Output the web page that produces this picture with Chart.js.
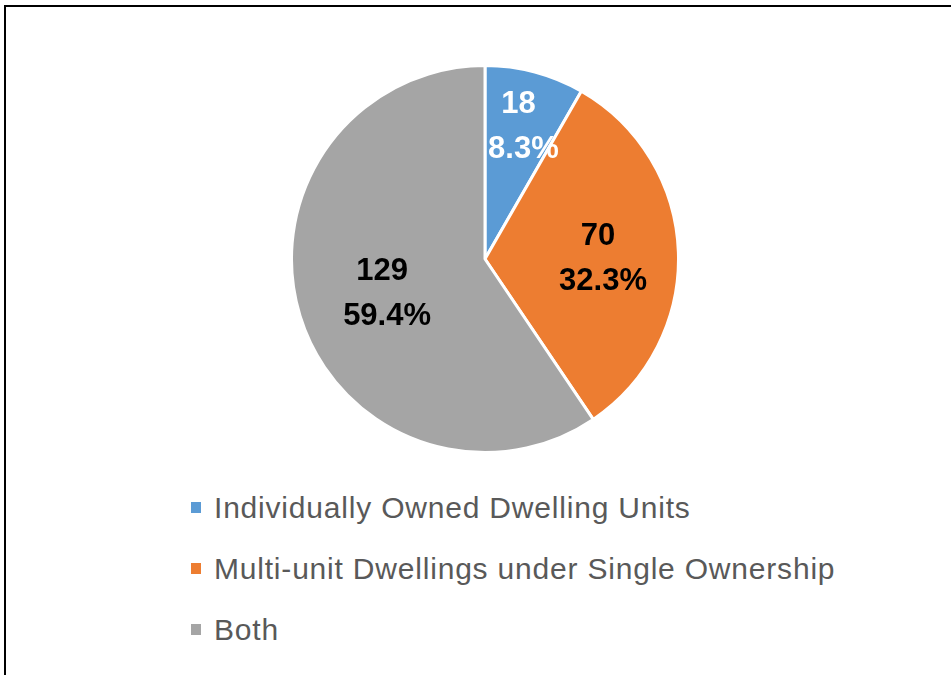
<html>
<head>
    <script src="https://cdn.jsdelivr.net/npm/chart.js@4/dist/chart.umd.min.js"></script>
    <style>
        body { margin: 0; background: #fff; width: 951px; height: 675px; overflow: hidden; position: relative; font-family: "Liberation Sans", Arial, sans-serif; }
        #frame { position: absolute; left: 4px; top: 5px; width: 960px; height: 700px; border-left: 2px solid #000; border-top: 2px solid #000; }
        #pie { position: absolute; left: 290px; top: 64px; width: 390px; height: 390px; }
        #legend { position: absolute; left: 191px; top: 488px; }
        .item { height: 61px; line-height: 40px; font-size: 30px; letter-spacing: 0.8px; color: #595959; white-space: nowrap; }
        .sw { display: inline-block; width: 10px; height: 11px; margin-right: 13px; vertical-align: 5px; }
    </style>
</head>
<body>
    <div id="frame"></div>
    <div id="pie"><canvas id="myChart"></canvas></div>
    <div id="legend"></div>
    <script type="text/javascript">
        const labels = ['Individually Owned Dwelling Units', 'Multi-unit Dwellings under Single Ownership', 'Both'];
        const counts = [18, 70, 129];
        const percents = ['8.3%', '32.3%', '59.4%'];
        const colors = ['#5B9BD5', '#ED7D31', '#A5A5A5'];
        const labelColors = ['#ffffff', '#000000', '#000000'];

        // value labels inside slices, like the spreadsheet did
        const sliceLabels = {
            id: 'sliceLabels',
            afterDatasetsDraw(chart, args, opts) {
                const ctx = chart.ctx;
                const arcs = chart.getDatasetMeta(0).data;
                ctx.save();
                ctx.font = 'bold 31px "Liberation Sans", Arial, sans-serif';
                ctx.textAlign = 'center';
                ctx.textBaseline = 'middle';
                arcs.forEach(function(arc, k){
                    const mid = (arc.startAngle + arc.endAngle) / 2;
                    const r = arc.outerRadius * opts.ratio[k];
                    const x = arc.x + Math.cos(mid) * r;
                    const y = arc.y + Math.sin(mid) * r + 4;
                    ctx.fillStyle = labelColors[k];
                    ctx.fillText(String(counts[k]), x - 3, y - 22);
                    ctx.fillText(percents[k], x + 2, y + 23);
                });
                ctx.restore();
            }
        };

        const data = {
            labels: labels,
            datasets: [{
                data: counts,
                backgroundColor: colors,
                borderColor: '#ffffff',
                borderWidth: 3
            }]
        };
        const config = {
            type: 'pie',
            data: data,
            options: {
                responsive: true,
                maintainAspectRatio: false,
                animation: false,
                layout: { padding: 0 },
                plugins: {
                    legend: { display: false },
                    tooltip: { enabled: false },
                    sliceLabels: { ratio: [0.73, 0.6, 0.54] }
                }
            },
            plugins: [sliceLabels]
        };
        var myChart = new Chart(document.getElementById('myChart'), config);

        var legend = document.getElementById('legend');
        labels.forEach(function(l, k){
            var div = document.createElement('div');
            div.className = 'item';
            div.innerHTML = '<span class="sw" style="background:' + colors[k] + '"></span>' + l;
            legend.appendChild(div);
        });
    </script>
</body>
</html>
